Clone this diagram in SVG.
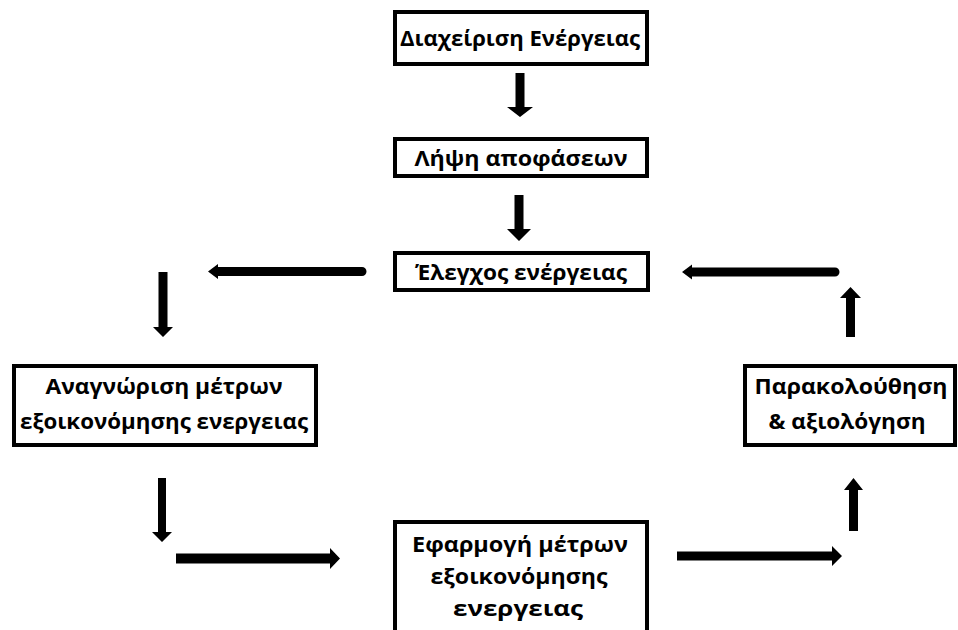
<svg xmlns="http://www.w3.org/2000/svg" width="958" height="630" viewBox="0 0 958 630">
  <style>
    .box { fill: #ffffff; stroke: #000000; stroke-width: 4; }
    .label { font-family: "Open Sans", "Noto Sans", "DejaVu Sans", sans-serif; font-weight: bold; font-size: 22px; fill: #000000; text-anchor: middle; }
    .arrow { fill: #000000; stroke: none; }
  </style>
  <rect width="958" height="630" fill="#ffffff"/>

  <!-- connectors: block arrows -->
  <g id="connectors">
    <!-- management -> decisions -->
    <polygon class="arrow" points="515.5,73 524.5,73 524.5,107 533,107 520,117 507,107 515.5,107"/>
    <!-- decisions -> energy control -->
    <polygon class="arrow" points="514.5,195 523.5,195 523.5,229 531,229 519,241 507,229 514.5,229"/>
    <!-- energy control -> left branch -->
    <path class="arrow" d="M362,267 A4.5,4.5 0 0 1 362,276 L218,276 L218,279 L208,271.5 L218,264 L218,267 Z"/>
    <!-- right branch -> energy control -->
    <path class="arrow" d="M835,267.5 A4.5,4.5 0 0 1 835,276.5 L692,276.5 L692,279.5 L682,272 L692,264.5 L692,267.5 Z"/>
    <!-- down to identification -->
    <polygon class="arrow" points="158.5,272 167.5,272 167.5,327 173,327 163,337 153,327 158.5,327"/>
    <!-- identification -> down -->
    <polygon class="arrow" points="158,478 166,478 166,532 172,532 162,542 152,532 158,532"/>
    <!-- across to implementation -->
    <polygon class="arrow" points="176,553.5 330,553.5 330,548 340,558.5 330,569 330,563.5 176,563.5"/>
    <!-- implementation -> across -->
    <polygon class="arrow" points="677,551.5 832,551.5 832,546 842,556 832,566 832,560.5 677,560.5"/>
    <!-- up to monitoring -->
    <polygon class="arrow" points="849,531 858,531 858,490 863,490 853.5,478 844,490 849,490"/>
    <!-- monitoring -> up -->
    <polygon class="arrow" points="846,337 855,337 855,298 861,298 850.5,287 840,298 846,298"/>
  </g>

  <g id="energy-management">
    <rect class="box" x="395" y="12" width="252" height="52"/>
    <text class="label" x="520" y="46" textLength="240" lengthAdjust="spacingAndGlyphs">Διαχείριση Ενέργειας</text>
  </g>

  <g id="decision-making">
    <rect class="box" x="395" y="139" width="252" height="37"/>
    <text class="label" x="521" y="166" textLength="213" lengthAdjust="spacingAndGlyphs">Λήψη αποφάσεων</text>
  </g>

  <g id="energy-control">
    <rect class="box" x="395" y="253" width="253" height="37"/>
    <text class="label" x="521" y="280" textLength="212" lengthAdjust="spacingAndGlyphs">Έλεγχος ενέργειας</text>
  </g>

  <g id="identify-measures">
    <rect class="box" x="14" y="366" width="302" height="79"/>
    <text class="label" x="164" y="394" textLength="237" lengthAdjust="spacingAndGlyphs">Αναγνώριση μέτρων</text>
    <text class="label" x="164" y="429" textLength="288" lengthAdjust="spacingAndGlyphs">εξοικονόμησης ενεργειας</text>
  </g>

  <g id="monitoring">
    <rect class="box" x="745" y="366" width="210" height="79"/>
    <text class="label" x="851" y="394" textLength="193" lengthAdjust="spacingAndGlyphs">Παρακολούθηση</text>
    <text class="label" x="847" y="429" textLength="157" lengthAdjust="spacingAndGlyphs">&amp; αξιολόγηση</text>
  </g>

  <g id="implement-measures">
    <rect class="box" x="395" y="522" width="252" height="120"/>
    <text class="label" x="520" y="552" textLength="216" lengthAdjust="spacingAndGlyphs">Εφαρμογή μέτρων</text>
    <text class="label" x="519" y="584" textLength="177" lengthAdjust="spacingAndGlyphs">εξοικονόμησης</text>
    <text class="label" x="518" y="616" textLength="130" lengthAdjust="spacingAndGlyphs">ενεργειας</text>
  </g>
</svg>
